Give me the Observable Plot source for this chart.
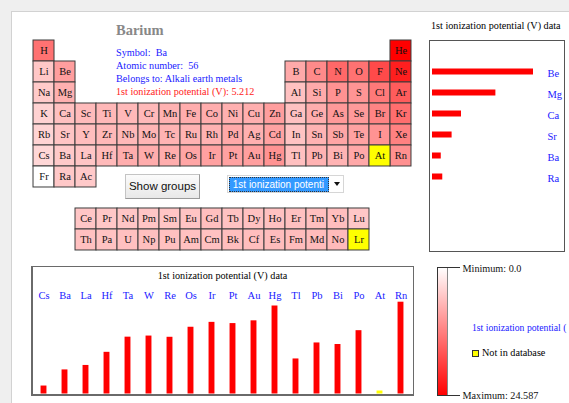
<!DOCTYPE html>
<html><head><meta charset="utf-8">
<script src="https://cdn.jsdelivr.net/npm/d3@7"></script>
<script src="https://cdn.jsdelivr.net/npm/@observablehq/plot@0.6"></script>
<style>
html,body{margin:0;padding:0;}
body{width:569px;height:403px;overflow:hidden;background:#efefef;position:relative;font-family:"Liberation Serif",serif;}
.abs{position:absolute;white-space:nowrap;}
#panel{left:11px;top:11px;width:600px;height:500px;background:#fff;border-left:1px solid #d2d2d2;border-top:1px solid #d2d2d2;}
.info{font-size:10.2px;line-height:13px;color:#1a1aff;}
.lbl{font-size:10.2px;line-height:10.2px;color:#000;}
#btn{left:125px;top:174px;width:73px;height:23px;border:1px solid #c4c4c4;border-right-color:#9a9a9a;border-bottom-color:#9a9a9a;background:linear-gradient(#fbfbfb,#e8e8e8);font-family:"Liberation Sans",sans-serif;font-size:11.5px;line-height:23px;text-align:center;color:#111;}
#sel{left:227px;top:175px;width:115px;height:16px;border:1px solid #d6d6d6;background:#fff;}
#selhl{left:1px;top:1px;width:98px;height:13px;background:#3399ff;border:1px dotted #333;overflow:hidden;color:#fff;font-family:"Liberation Sans",sans-serif;font-size:10px;line-height:13px;}
#arrow{left:106px;top:6px;width:0;height:0;border-left:3.5px solid transparent;border-right:3.5px solid transparent;border-top:4px solid #111;}
.frame{border:1px solid #555;background:#fff;}
</style></head>
<body>
<div id="panel" class="abs"></div>
<div class="abs" style="left:116px;top:23px;font-size:14.5px;line-height:14.5px;font-weight:bold;color:#888;">Barium</div>
<div class="abs info" style="left:116px;top:46px;">Symbol:&nbsp; Ba<br>Atomic number:&nbsp; 56<br>Belongs to: Alkali earth metals<br><span style="color:#ff1a1a">1st ionization potential (V): 5.212</span></div>
<div id="btn" class="abs">Show groups</div>
<div id="sel" class="abs"><div id="selhl" class="abs">&nbsp;1st ionization potenti</div><div id="arrow" class="abs"></div></div>
<div class="abs lbl" style="left:431px;top:21px;">1st ionization potential (V) data</div>
<div class="abs frame" style="left:429px;top:40px;width:134px;height:210px;"></div>
<div class="abs frame" style="left:31px;top:266px;width:380px;height:127px;border-color:#6a6a6a;border-width:1px 1px 2px 2px;"></div>
<div class="abs lbl" style="left:32px;top:271px;width:381px;text-align:center;">1st ionization potential (V) data</div>
<div class="abs lbl" style="left:472px;top:322.5px;color:#1a1aff;font-size:9.7px;">1st ionization potential (</div>
<div class="abs" style="left:472px;top:350px;width:5px;height:5px;background:#ffff00;border:1px solid #333;"></div>
<div class="abs lbl" style="left:482px;top:347.5px;">Not in database</div>
<div id="table" class="abs" style="left:31px;top:38px;"></div>
<div id="right" class="abs" style="left:429px;top:40px;"></div>
<div id="bottom" class="abs" style="left:32px;top:267px;"></div>
<div id="legend" class="abs" style="left:420px;top:260px;"></div>
<script>
// Element symbols by atomic number 1..103
const symbols = ["H","He","Li","Be","B","C","N","O","F","Ne","Na","Mg","Al","Si","P","S","Cl","Ar",
"K","Ca","Sc","Ti","V","Cr","Mn","Fe","Co","Ni","Cu","Zn","Ga","Ge","As","Se","Br","Kr",
"Rb","Sr","Y","Zr","Nb","Mo","Tc","Ru","Rh","Pd","Ag","Cd","In","Sn","Sb","Te","I","Xe",
"Cs","Ba","La","Ce","Pr","Nd","Pm","Sm","Eu","Gd","Tb","Dy","Ho","Er","Tm","Yb","Lu",
"Hf","Ta","W","Re","Os","Ir","Pt","Au","Hg","Tl","Pb","Bi","Po","At","Rn",
"Fr","Ra","Ac","Th","Pa","U","Np","Pu","Am","Cm","Bk","Cf","Es","Fm","Md","No","Lr"];
// 1st ionization potential (V); null = not in database
const ionization = [13.598,24.587,5.392,9.322,8.298,11.260,14.534,13.618,17.422,21.564,5.139,7.646,5.986,8.151,10.486,10.360,12.967,15.759,
4.341,6.113,6.54,6.82,6.74,6.766,7.435,7.870,7.86,7.635,7.726,9.394,5.999,7.899,9.81,9.752,11.814,13.999,
4.177,5.695,6.38,6.84,6.88,7.099,7.28,7.37,7.46,8.34,7.576,8.993,5.786,7.344,8.641,9.009,10.451,12.130,
3.894,5.212,5.577,5.47,5.42,5.49,5.55,5.63,5.67,6.14,5.85,5.93,6.02,6.10,6.18,6.254,5.426,
6.65,7.89,7.98,7.88,8.7,9.1,9.0,9.225,10.437,6.108,7.416,7.289,8.42,null,10.748,
0,5.279,5.17,6.08,5.89,6.05,6.19,6.06,5.993,6.02,6.23,6.30,6.42,6.50,6.58,6.65,null];
const legendMin = 0.0;
const legendMax = 24.587;

function place(z){
  if (z===1) return [1,1];
  if (z===2) return [18,1];
  if (z<=4) return [z-2,2];
  if (z<=10) return [z+8,2];
  if (z<=12) return [z-10,3];
  if (z<=18) return [z,3];
  if (z<=36) return [z-18,4];
  if (z<=54) return [z-36,5];
  if (z<=57) return [z-54,6];
  if (z<=71) return [z-55,9];
  if (z<=86) return [z-68,6];
  if (z<=89) return [z-86,7];
  return [z-87,10];
}
const cells = symbols.map((s,i)=>{const [col,row]=place(i+1);return {sym:s,v:ionization[i],col,row};});
const known = cells.filter(d=>d.v!=null), missing = cells.filter(d=>d.v==null);
const serif = "Liberation Serif";
const blue = "#1a1aff";
const colorScale = {type:"linear", domain:[legendMin, legendMax], range:["white","red"], interpolate:"rgb"};

// Periodic table
const cw = 21.1, ch = 21.15;
document.getElementById("table").append(Plot.plot({
  width: 18*cw+2, height: 10*ch+2, margin:0,
  style:{fontFamily:serif, fontSize:"10.5px", background:"transparent"},
  x:{type:"band", domain:d3.range(1,19), range:[1,1+18*cw], padding:0, axis:null},
  y:{type:"band", domain:d3.range(1,11), range:[1,1+10*ch], padding:0, axis:null},
  color: colorScale,
  marks:[
    Plot.cell(known,{x:"col",y:"row",fill:"v",stroke:"#3c3c3c",strokeWidth:1}),
    Plot.cell(missing,{x:"col",y:"row",fill:"#ffff00",stroke:"#3c3c3c",strokeWidth:1}),
    Plot.text(cells,{x:"col",y:"row",text:"sym",fill:"#111",fontSize:10.5})
  ]
}));

// Right chart: group 2 (alkali earth metals)
const g2 = known.filter(d=>d.col===2 && d.row<=7).sort((a,b)=>a.row-b.row);
const rMin = d3.min(g2,d=>d.v), rMax = d3.max(g2,d=>d.v), rV0 = rMin-0.095*(rMax-rMin);
document.getElementById("right").append(Plot.plot({
  width:135, height:211, marginTop:0, marginBottom:0, marginLeft:0, marginRight:17,
  style:{fontFamily:serif, fontSize:"10.5px", color:blue, background:"transparent"},
  x:{domain:[rV0,rMax], range:[3,104], axis:null},
  y:{type:"band", domain:g2.map(d=>d.sym), range:[20.5,146.5], padding:0, axis:null},
  marks:[
    Plot.barX(g2,{y:"sym", x1:rV0, x2:"v", fill:"red", insetTop:7.5, insetBottom:7.5}),
    Plot.axisY({anchor:"right", tickSize:0, tickPadding:0, textAnchor:"start", dy:2, fill:blue, label:null})
  ]
}));

// Bottom chart: period 6
const p6 = cells.filter(d=>d.row===6).sort((a,b)=>a.col-b.col);
const p6k = p6.filter(d=>d.v!=null), p6m = p6.filter(d=>d.v==null);
const bMin = d3.min(p6k,d=>d.v), bMax = d3.max(p6k,d=>d.v), bV0 = bMin-0.095*(bMax-bMin);
document.getElementById("bottom").append(Plot.plot({
  width:381, height:128, marginTop:33, marginBottom:0, marginLeft:0, marginRight:0,
  style:{fontFamily:serif, fontSize:"10.5px", color:blue, background:"transparent"},
  x:{type:"band", domain:p6.map(d=>d.sym), range:[0,380], padding:0, axis:null},
  y:{domain:[bV0,bMax], range:[126.5,34.7], axis:null},
  marks:[
    Plot.barY(p6k,{x:"sym", y1:bV0, y2:"v", fill:"red", insetLeft:7.55, insetRight:7.55}),
    Plot.barY(p6m,{x:"sym", y1:bV0, y2:bV0, fill:"#ffff00", insetLeft:7.55, insetRight:7.55, insetTop:-3}),
    Plot.axisX({anchor:"top", tickSize:0, tickPadding:2, fill:blue, label:null})
  ]
}));

// Legend
const ramp = d3.range(129).map(i=>legendMin+i*(legendMax-legendMin)/128);
document.getElementById("legend").append(Plot.plot({
  width:149, height:140, margin:0,
  style:{fontFamily:serif, fontSize:"10.2px", background:"transparent"},
  x:{domain:[0,1], range:[17,27], axis:null},
  y:{domain:[legendMin,legendMax], range:[7,135], axis:null},
  color: colorScale,
  marks:[
    Plot.rect(ramp.slice(0,-1),{x1:0, x2:1, y1:d=>d, y2:(d,i)=>ramp[i+1], fill:d=>d}),
    Plot.ruleX([0],{y1:legendMin, y2:legendMax, stroke:"#333"}),
    Plot.ruleX([1],{y1:legendMin, y2:legendMax, stroke:"#888"}),
    Plot.ruleY([legendMin, legendMax],{x1:0, x2:2.3, stroke:"#333"}),
    Plot.text([legendMin],{x:2.5, y:d=>d, text:d=>"Minimum: "+d.toFixed(1), textAnchor:"start", dy:1, fill:"#111"}),
    Plot.text([legendMax],{x:2.5, y:d=>d, text:d=>"Maximum: "+d, textAnchor:"start", dy:0, fill:"#111"})
  ]
}));
</script>
</body></html>
